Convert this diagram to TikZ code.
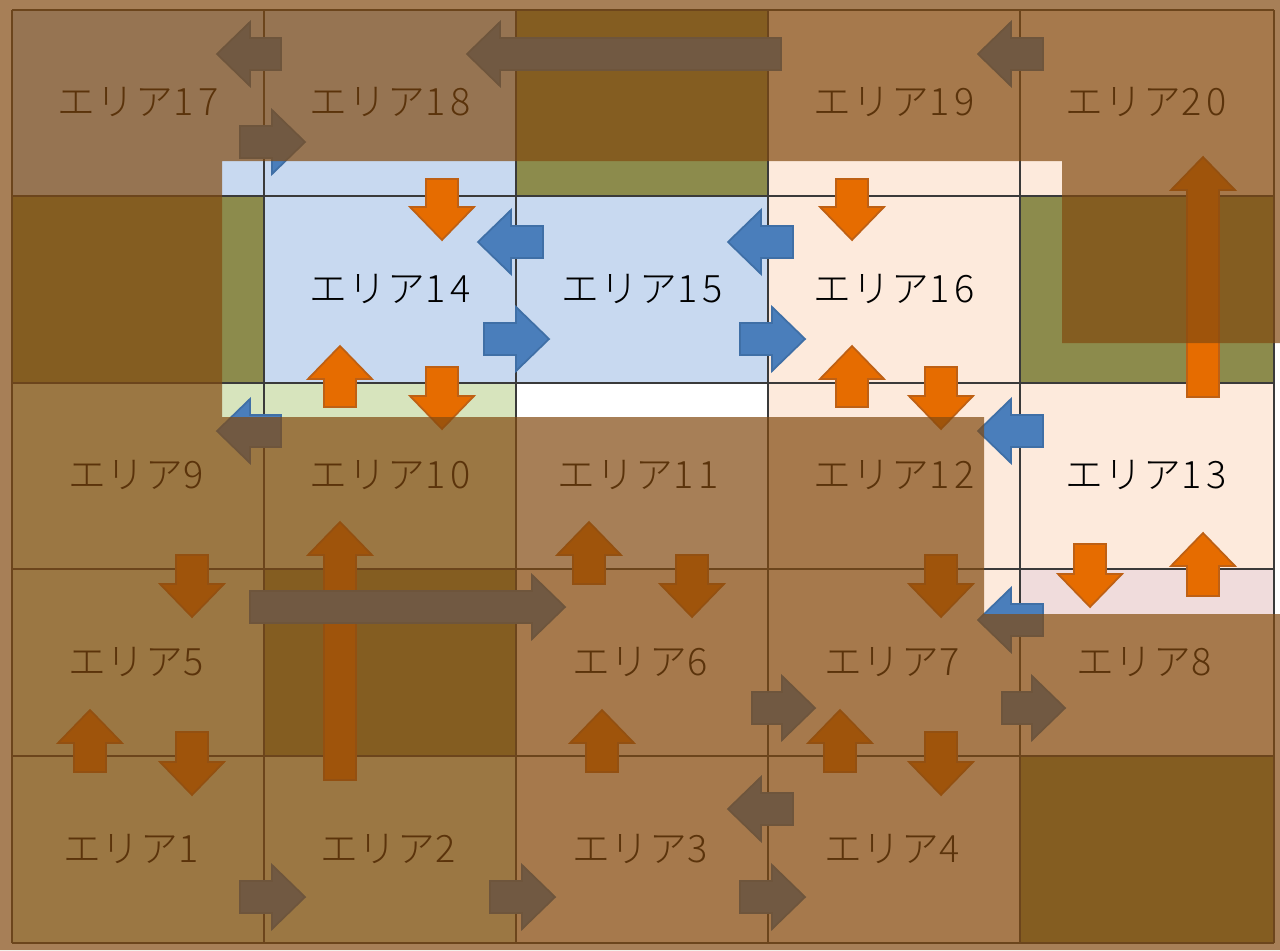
\documentclass[tikz,border=0pt]{standalone}
\usepackage{fontspec}
\setmainfont[LetterSpace=3]{Noto Sans CJK JP Light}
\definecolor{cellblue}{HTML}{C8D9F0}
\definecolor{cellpeach}{HTML}{FDEADC}
\definecolor{cellgreen}{HTML}{D7E4BD}
\definecolor{cellpink}{HTML}{F0DCDC}
\definecolor{cellolive}{HTML}{8C8B4C}
\definecolor{gridline}{HTML}{3A3A3A}
\definecolor{veil}{HTML}{824A10}
\definecolor{orangefill}{HTML}{E66C00}
\definecolor{orangeedge}{HTML}{BE6014}
\definecolor{bluefill}{HTML}{4A7EBB}
\definecolor{blueedge}{HTML}{3F6FA6}
\tikzset{
  arealabel/.style={inner sep=0pt,font=\fontsize{21.5}{21.5}\selectfont,text=black},
  orangearrow/.style={fill=orangefill,draw=orangeedge,line width=1pt,line join=miter},
  bluearrow/.style={fill=bluefill,draw=blueedge,line width=1pt,line join=miter},
  gridpath/.style={draw=gridline,line width=1.3pt}
}
% tail to tip along x: style, x tail, x tip, y
\newcommand{\harrow}[4]{%
  \pgfmathsetmacro{\headx}{#3+(#2<#3?-33:33)}%
  \path[#1] (#2,#4-16) -- (\headx,#4-16) -- (\headx,#4-32) -- (#3,#4)
    -- (\headx,#4+32) -- (\headx,#4+16) -- (#2,#4+16) -- cycle;}
% tail to tip along y: style, x, y tail, y tip
\newcommand{\varrow}[4]{%
  \pgfmathsetmacro{\heady}{#4+(#3<#4?-33:33)}%
  \path[#1] (#2-16,#3) -- (#2-16,\heady) -- (#2-32,\heady) -- (#2,#4)
    -- (#2+32,\heady) -- (#2+16,\heady) -- (#2+16,#3) -- cycle;}
\begin{document}
\begin{tikzpicture}[x=0.02cm,y=-0.02cm]
\useasboundingbox (0,0) rectangle (1280,950);
\fill[white] (0,0) rectangle (1280,950);
\foreach \xa/\xb/\ya/\yb/\col in {
  12/264/10/196/cellblue, 264/516/10/196/cellblue, 516/768/10/196/cellolive,
  768/1020/10/196/cellpeach, 1020/1274/10/196/cellpeach,
  12/264/196/383/cellolive, 264/516/196/383/cellblue, 516/768/196/383/cellblue,
  768/1020/196/383/cellpeach, 1020/1274/196/383/cellolive,
  12/264/383/569/cellgreen, 264/516/383/569/cellgreen, 768/1020/383/569/cellpeach,
  1020/1274/383/569/cellpeach,
  12/264/569/756/cellgreen, 264/516/569/756/cellolive, 516/768/569/756/cellpeach,
  768/1020/569/756/cellpeach, 1020/1274/569/756/cellpeach, 1020/1274/569/614/cellpink,
  12/264/756/943/cellgreen, 264/516/756/943/cellgreen, 516/768/756/943/cellpeach,
  768/1020/756/943/cellpeach, 1020/1274/756/943/cellolive}
  \fill[\col] (\xa,\ya) rectangle (\xb,\yb);
\foreach \x in {12,264,516,768,1020,1274}
  \draw[gridpath] (\x,10) -- (\x,943);
\foreach \y in {10,196,383,569,756,943}
  \draw[gridpath] (12,\y) -- (1274,\y);
\foreach \n/\x/\y in {
  17/138/102, 18/390/102, 19/894/102, 20/1146/102,
  14/390/289, 15/642/289, 16/894/289,
  9/136/475, 10/390/475, 11/638/475, 12/894/475, 13/1146/475,
  5/136/662, 6/640/662, 7/892/662, 8/1144/662,
  1/131/849, 2/388/849, 3/640/849, 4/892/849}
  \node[arealabel] (area\n) at (\x,\y) {エリア{\addfontfeature{LetterSpace=12}\n}};
\foreach \x/\ya/\yb in {
  442/179/240, 852/179/240, 442/367/429, 941/367/429, 192/555/617, 692/555/617,
  941/555/617, 1090/544/607, 192/732/795, 941/732/795, 340/407/346, 852/407/346,
  1203/397/157, 1203/596/533, 340/780/522, 589/584/522, 602/772/710, 90/772/710,
  840/772/710}
  \varrow{orangearrow}{\x}{\ya}{\yb};
\foreach \xa/\xb/\y in {
  281/217/54, 781/467/54, 1043/978/54, 240/305/142, 543/478/242, 793/728/242,
  484/549/339, 740/805/339, 281/217/431, 1043/978/431, 250/565/607, 1043/978/620,
  752/815/708, 1002/1065/708, 793/728/809, 240/305/897, 490/555/897, 740/805/897}
  \harrow{bluearrow}{\xa}{\xb}{\y};
\fill[veil,fill opacity=0.7,even odd rule] (0,0) rectangle (1280,950)
  (222,161) -- (1062,161) -- (1062,343) -- (1280,343) -- (1280,614)
  -- (984,614) -- (984,417) -- (222,417) -- cycle;
\end{tikzpicture}
\end{document}
